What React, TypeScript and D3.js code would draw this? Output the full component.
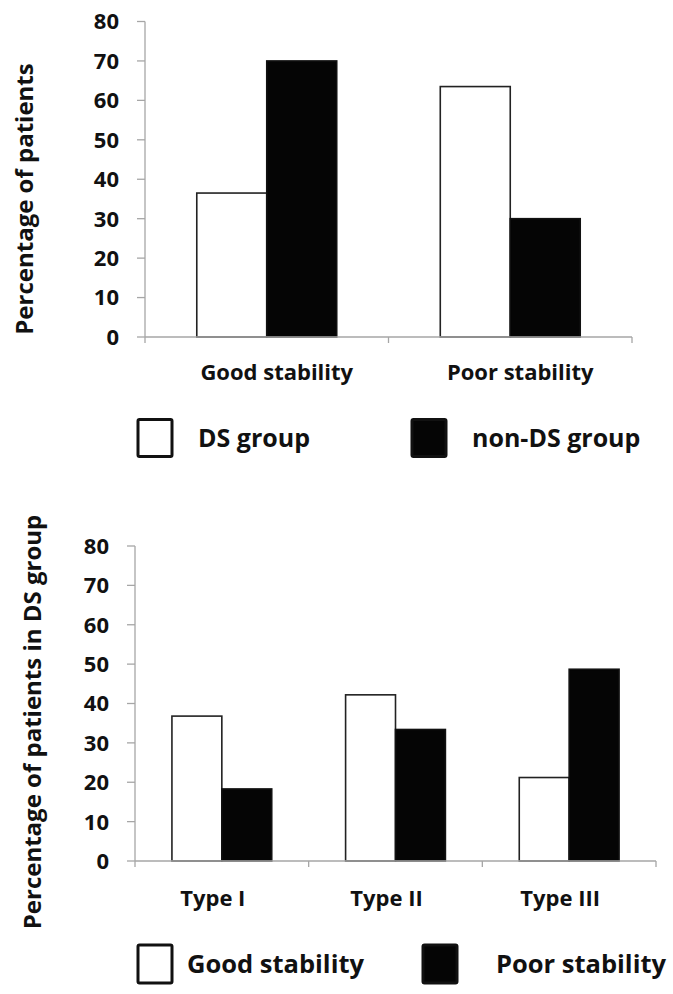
import React from "react";
import * as d3 from "d3";

const topCategories = ["Good stability", "Poor stability"];
const topSeries = ["DS group", "non-DS group"];
const topDS = [36.5, 63.5];
const topNonDS = [70, 30];

const bottomCategories = ["Type I", "Type II", "Type III"];
const bottomSeries = ["Good stability", "Poor stability"];
const bottomGood = [36.8, 42.2, 21.2];
const bottomPoor = [18.3, 33.4, 48.7];

const yTickValues = [0, 10, 20, 30, 40, 50, 60, 70, 80];

const FONT = "'Open Sans', 'DejaVu Sans', sans-serif";
const AXIS = "#a6a6a6";
const INK = "#111";

type PanelProps = {
  categories: string[];
  series: string[];
  values: number[][];
  x0: number;
  x1: number;
  yTop: number;
  yBottom: number;
  tickLabelX: number;
  titleX: number;
  titleY: number;
  title: string;
  catLabelY: number;
  catDx: number;
  legendY: number;
  legendX: number[];
  legendTextX: number[];
  legendSize: [number, number];
  legendFont: number;
};

function Panel(p: PanelProps) {
  const y = d3.scaleLinear().domain([0, 80]).range([p.yBottom, p.yTop]);
  const xOuter = d3.scaleBand<string>().domain(p.categories).range([p.x0, p.x1]).padding(0);
  const xInner = d3
    .scaleBand<string>()
    .domain(p.series)
    .range([0, xOuter.bandwidth()])
    .paddingInner(0)
    .paddingOuter(0.74);
  const fills = ["#ffffff", "#050505"];
  const boundaries = p.categories.map((c) => xOuter(c) as number).concat([p.x1]);
  return (
    <g>
      <line x1={p.x0} x2={p.x0} y1={y(80)} y2={y(0)} stroke={AXIS} strokeWidth={1.3} />
      {yTickValues.map((t) => (
        <g key={t}>
          <line x1={p.x0 - 8} x2={p.x0} y1={y(t)} y2={y(t)} stroke={AXIS} strokeWidth={1.3} />
          <text
            x={p.tickLabelX}
            y={y(t)}
            dy="0.36em"
            textAnchor="end"
            fontFamily={FONT}
            fontWeight={700}
            fontSize={22}
            fill={INK}
          >
            {t}
          </text>
        </g>
      ))}
      {p.categories.map((c, ci) => (
        <g key={c}>
          {p.series.map((s, si) => {
            const v = p.values[si][ci];
            const bx = (xOuter(c) as number) + (xInner(s) as number);
            return (
              <rect
                key={s}
                x={bx}
                y={y(v)}
                width={xInner.bandwidth()}
                height={y(0) - y(v)}
                fill={fills[si]}
                stroke={si === 0 ? "#222" : "#111"}
                strokeWidth={1.6}
              />
            );
          })}
        </g>
      ))}
      <line x1={p.x0} x2={p.x1} y1={y(0)} y2={y(0)} stroke={AXIS} strokeWidth={1.3} />
      {boundaries.map((b, i) => (
        <line key={i} x1={b} x2={b} y1={y(0)} y2={y(0) + 6} stroke={AXIS} strokeWidth={1.3} />
      ))}
      {p.categories.map((c) => (
        <text
          key={c}
          x={(xOuter(c) as number) + xOuter.bandwidth() / 2 + p.catDx}
          y={p.catLabelY}
          textAnchor="middle"
          fontFamily={FONT}
          fontWeight={700}
          fontSize={22}
          fill={INK}
        >
          {c}
        </text>
      ))}
      <text
        transform={`translate(${p.titleX},${p.titleY}) rotate(-90)`}
        textAnchor="middle"
        fontFamily={FONT}
        fontWeight={700}
        fontSize={24}
        fill={INK}
      >
        {p.title}
      </text>
      {p.series.map((s, si) => (
        <g key={s}>
          <rect
            x={p.legendX[si]}
            y={p.legendY - p.legendSize[1] / 2}
            width={p.legendSize[0]}
            height={p.legendSize[1]}
            rx={1.5}
            fill={fills[si]}
            stroke={INK}
            strokeWidth={3}
          />
          <text
            x={p.legendTextX[si]}
            y={p.legendY}
            dy="0.36em"
            fontFamily={FONT}
            fontWeight={700}
            fontSize={p.legendFont}
            fill={INK}
          >
            {s}
          </text>
        </g>
      ))}
    </g>
  );
}

export default function App() {
  return (
    <svg
      width={673}
      height={994}
      style={{ position: "absolute", left: 0, top: 0, background: "#fff" }}
    >
      <rect x={0} y={0} width={673} height={994} fill="#fff" />
      <Panel
        categories={topCategories}
        series={topSeries}
        values={[topDS, topNonDS]}
        x0={145}
        x1={632}
        yTop={21.5}
        yBottom={337}
        tickLabelX={119}
        titleX={33}
        titleY={199}
        title="Percentage of patients"
        catLabelY={380}
        catDx={10}
        legendY={438}
        legendX={[138, 412]}
        legendTextX={[198, 472]}
        legendSize={[34, 37]}
        legendFont={25}
      />
      <Panel
        categories={bottomCategories}
        series={bottomSeries}
        values={[bottomGood, bottomPoor]}
        x0={135}
        x1={656}
        yTop={546}
        yBottom={861}
        tickLabelX={109}
        titleX={41}
        titleY={722}
        title="Percentage of patients in DS group"
        catLabelY={906}
        catDx={-9}
        legendY={964}
        legendX={[138, 423]}
        legendTextX={[187, 496]}
        legendSize={[34, 38]}
        legendFont={25.5}
      />
    </svg>
  );
}
